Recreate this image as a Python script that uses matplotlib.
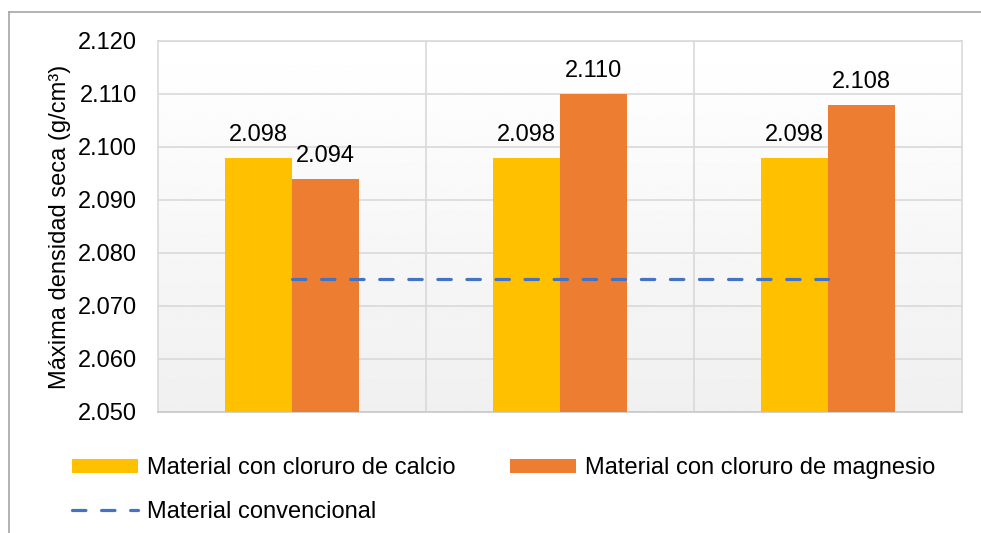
import numpy as np
import matplotlib
matplotlib.use("Agg")
import matplotlib.pyplot as plt
from matplotlib.lines import Line2D

plt.rcParams['font.family'] = ['Liberation Sans', 'DejaVu Sans']

# data
groups = ["1", "2", "3"]
calcio = [2.098, 2.098, 2.098]
magnesio = [2.094, 2.110, 2.108]
convencional = [2.075, 2.075, 2.075]
y_ticks = [2.050, 2.060, 2.070, 2.080, 2.090, 2.100, 2.110, 2.120]

lbl_calcio = "Material con cloruro de calcio"
lbl_magnesio = "Material con cloruro de magnesio"
lbl_conv = "Material convencional"

FS = 17

fig = plt.figure(figsize=(9.81, 5.33), dpi=100)
ax = fig.add_axes([158 / 981, 1 - 412 / 533, (962 - 158) / 981, (412 - 41) / 533])

# soft vertical gradient in plot area
grad = np.linspace(1.0, 0.94, 256).reshape(-1, 1)
ax.imshow(grad, cmap="gray", vmin=0, vmax=1, extent=[0, 1, 0, 1],
          transform=ax.transAxes, aspect="auto", zorder=0)

x = np.arange(len(groups))
w = 0.25
b1 = ax.bar(x - w / 2, calcio, w, color="#FFC000", label=lbl_calcio, zorder=3)
b2 = ax.bar(x + w / 2, magnesio, w, color="#ED7D31", label=lbl_magnesio, zorder=3)
ln, = ax.plot(x, convencional, color="#4472C4", lw=2.3, ls=(0, (4.2, 4.9)),
              dash_capstyle="round", label=lbl_conv, zorder=4)

for bars, vals in ((b1, calcio), (b2, magnesio)):
    for r, v in zip(bars, vals):
        ax.annotate(f"{v:.3f}", (r.get_x() + r.get_width() / 2, v),
                    xytext=(0, 12), textcoords="offset points",
                    ha="center", va="baseline", fontsize=FS, zorder=5)

ax.set_xlim(-0.5, 2.5)
ax.set_ylim(2.050, 2.120)
ax.set_yticks(y_ticks)
ax.set_yticklabels([f"{t:.3f}" for t in y_ticks])
ax.set_xticks([])
ax.set_xticks([0.5, 1.5], minor=True)
ax.tick_params(axis="y", length=0, pad=15, labelsize=FS)
ax.tick_params(axis="x", which="both", length=0, labelbottom=False)
ax.grid(axis="y", color="#d9d9d9", lw=1.2, zorder=1)
ax.grid(axis="x", which="minor", color="#d9d9d9", lw=1.2, zorder=1)
ax.set_axisbelow(True)
for s in ax.spines.values():
    s.set_color("#d9d9d9")
    s.set_linewidth(1.2)
ax.spines["bottom"].set_color("#c8c8c8")

ax.set_ylabel("Máxima densidad seca (g/cm³)", fontsize=FS, labelpad=5)

# legend: row 1 = calcio, magnesio ; row 2 = convencional
fig.legend([b1, ln, b2], [lbl_calcio, lbl_conv, lbl_magnesio], ncol=2,
           loc="upper left", bbox_to_anchor=(72 / 981, 1 - 457 / 533),
           frameon=False, fontsize=FS, handlelength=2.8, handleheight=0.52,
           handletextpad=0.38, columnspacing=2.3, labelspacing=0.92,
           borderpad=0, borderaxespad=0)

# outer chart frame (top and left edges visible)
fig.add_artist(Line2D([9 / 981, 1], [1 - 12 / 533, 1 - 12 / 533],
                      transform=fig.transFigure, color="#a6a6a6", lw=1.2))
fig.add_artist(Line2D([9 / 981, 9 / 981], [0, 1 - 12 / 533],
                      transform=fig.transFigure, color="#a6a6a6", lw=1.2))

fig.savefig("out.png", dpi=100)
